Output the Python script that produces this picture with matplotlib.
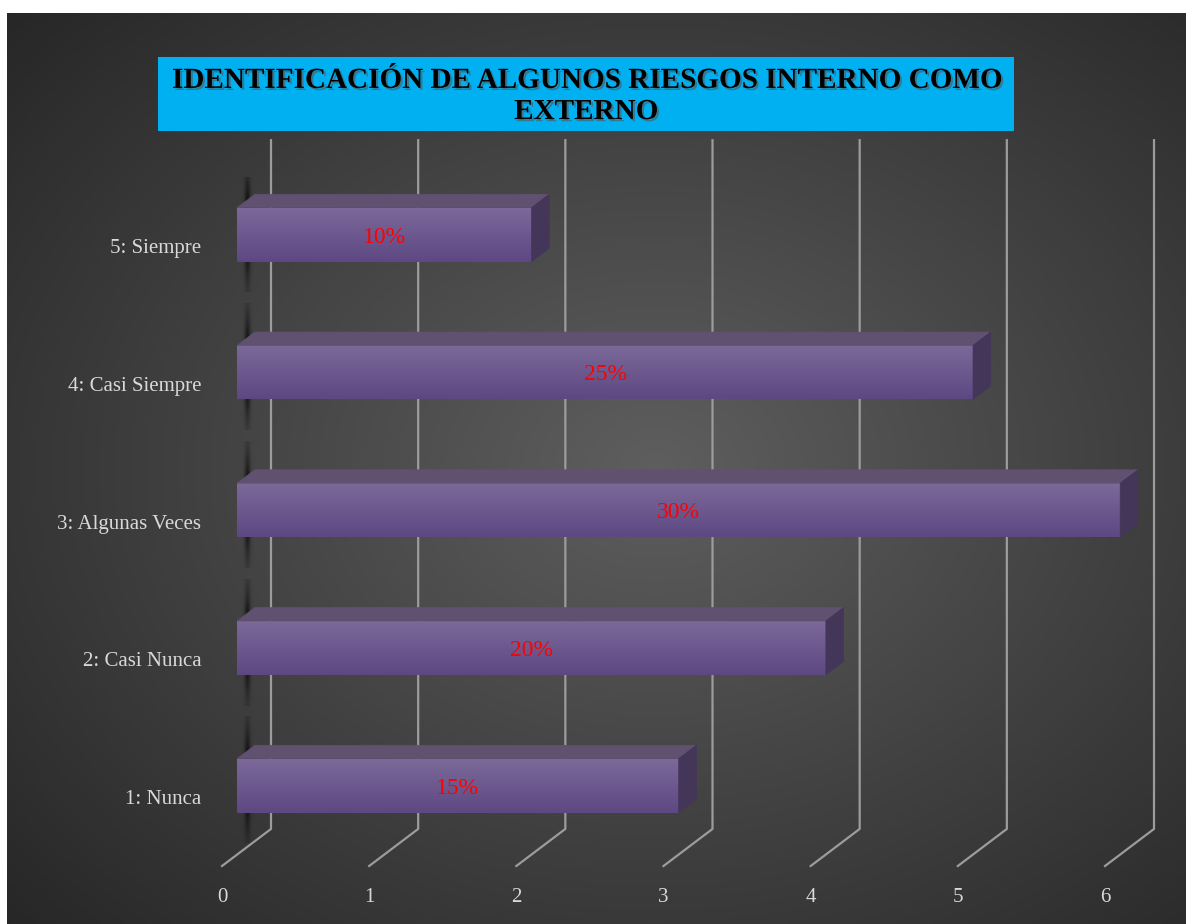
import matplotlib.pyplot as plt
import numpy as np
from matplotlib.patches import Polygon, Rectangle
import matplotlib.patheffects as pe

# data
categories = ['1: Nunca', '2: Casi Nunca', '3: Algunas Veces', '4: Casi Siempre', '5: Siempre']
values = [3, 4, 6, 5, 2]
labels = ['15%', '20%', '30%', '25%', '10%']
xticks = [0, 1, 2, 3, 4, 5, 6]
title = 'IDENTIFICACIÓN DE ALGUNOS RIESGOS INTERNO COMO\nEXTERNO'

W, H = 1186, 924
fig = plt.figure(figsize=(W / 100, H / 100), dpi=100)
fig.patch.set_facecolor('white')

# dark radial background
bg = fig.add_axes([7 / W, 0, 1 - 7 / W, 1 - 13 / H])
yy, xx = np.mgrid[0:1:300j, 0:1:400j]
r = np.sqrt(((xx - 0.55) / 0.75) ** 2 + ((yy - 0.5) / 0.75) ** 2)
shade = np.clip(0.37 - 0.22 * r, 0.15, 0.37)
bg.imshow(np.dstack([shade] * 3), extent=(0, 1, 0, 1), aspect='auto', origin='lower')
bg.set_axis_off()

# main axes = front plane of the 3D box
ax = fig.add_axes([222 / W, 58 / H, 883 / W, 688.75 / H])
ax.patch.set_visible(False)
for s in ax.spines.values():
    s.set_visible(False)

ddx, ddy = 0.333, 0.269   # depth vector in data units
d1, d2 = 0.31, 0.67       # bar front/back depth
bh = 0.392                # bar thickness
ymin, ymax = -0.5, 4.5

# gridlines: back wall verticals + floor diagonals
for t in xticks:
    ax.plot([t + ddx, t + ddx, t], [ymax + ddy, ymin + ddy, ymin],
            color='#9c9c9c', lw=1.6, clip_on=False, zorder=1)

grad = np.linspace(0, 1, 100).reshape(-1, 1)
top_c = np.array([0x7c, 0x69, 0x99]) / 255
bot_c = np.array([0x5d, 0x48, 0x83]) / 255
face_img = (top_c * (1 - grad) + bot_c * grad)[:, None, :].repeat(2, axis=1)

# shadow blob
sy = np.linspace(-1, 1, 120).reshape(-1, 1)
sx = np.linspace(-1, 1, 30).reshape(1, -1)
sh = np.zeros((120, 30, 4))
sh[..., 3] = np.exp(-(sx / 0.35) ** 2) * np.exp(-(sy / 0.75) ** 2) * 0.95

for i, (v, lab) in enumerate(zip(values, labels)):
    x0 = d1 * ddx
    x1 = v + d1 * ddx
    yc = i + d1 * ddy
    y0, y1 = yc - bh / 2, yc + bh / 2
    bx, by = (d2 - d1) * ddx, (d2 - d1) * ddy

    ax.imshow(sh, extent=(x0 + 0.01, x0 + 0.12, yc - 0.42, yc + 0.5),
              aspect='auto', zorder=2, interpolation='bilinear')

    im = ax.imshow(face_img, extent=(x0, x1, y0, y1), aspect='auto', zorder=4,
                   origin='upper', interpolation='bilinear')
    im.set_clip_on(False)
    ax.add_patch(Polygon([(x0, y1), (x1, y1), (x1 + bx, y1 + by), (x0 + bx, y1 + by)],
                         closed=True, facecolor='#605170', edgecolor='#605170',
                         lw=0.5, zorder=4, clip_on=False))
    ax.add_patch(Polygon([(x1, y0), (x1, y1), (x1 + bx, y1 + by), (x1 + bx, y0 + by)],
                         closed=True, facecolor='#443659', edgecolor='#443659',
                         lw=0.5, zorder=4, clip_on=False))
    ax.text((x0 + x1) / 2, yc, lab, color='#ff0000', fontsize=17,
            family='Liberation Serif', ha='center', va='center_baseline', zorder=5)

ax.set_xlim(0, 6)
ax.set_ylim(ymin, ymax)
ax.set_xticks(xticks)
ax.set_xticklabels([str(t) for t in xticks], family='Liberation Serif',
                   fontsize=15, color='#d9d9d9')
ax.set_yticks(range(len(categories)))
ax.set_yticklabels(categories, family='Liberation Serif', fontsize=15, color='#d9d9d9')
ax.tick_params(length=0)
ax.tick_params(axis='x', pad=16)
ax.tick_params(axis='y', pad=15)

# title box
fig.patches.append(Rectangle((158 / W, 1 - 131 / H), 856 / W, 74 / H,
                             transform=fig.transFigure, facecolor='#00b0f0',
                             edgecolor='none', zorder=3))
fig.text(586 / W, 1 - 96 / H, title, ha='center', va='center', fontsize=21,
         fontweight='bold', family='Liberation Serif', color='black',
         linespacing=1.2, zorder=4,
         path_effects=[pe.withSimplePatchShadow(offset=(1.5, -1.5), shadow_rgbFace='#555555', alpha=0.6)])

fig.savefig('out.png', dpi=100)
